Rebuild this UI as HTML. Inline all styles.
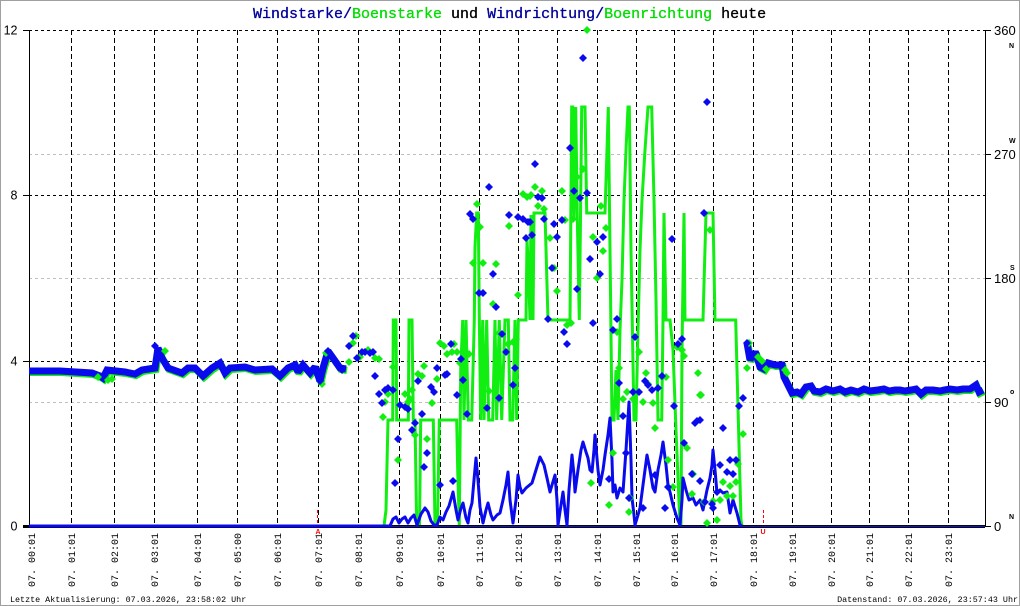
<!DOCTYPE html>
<html>
<head>
<meta charset="utf-8">
<style>
html,body{margin:0;padding:0;background:#fff;}
svg{display:block;}
.mono{font-family:"Liberation Mono",monospace;}
.sans{font-family:"Liberation Sans",sans-serif;}
</style>
</head>
<body>
<svg width="1020" height="606" viewBox="0 0 1020 606" xmlns="http://www.w3.org/2000/svg">
<rect x="0.5" y="0.5" width="1019" height="605" fill="#fff" stroke="#a0a0a0" stroke-width="1"/>

<!-- title -->
<text x="253" y="18" class="mono" font-size="15" font-weight="normal" stroke-width="0.3" xml:space="preserve"><tspan fill="#00009a" stroke="#00009a">Windstarke/</tspan><tspan fill="#00dd00" stroke="#00dd00">Boenstarke</tspan><tspan fill="#000" stroke="#000"> und </tspan><tspan fill="#00009a" stroke="#00009a">Windrichtung/</tspan><tspan fill="#00dd00" stroke="#00dd00">Boenrichtung</tspan><tspan fill="#000" stroke="#000"> heute</tspan></text>

<!-- gray direction grid -->
<g stroke="#c0c0c0" stroke-width="1" stroke-dasharray="3,3" shape-rendering="crispEdges">
<line x1="29" y1="154.5" x2="985" y2="154.5"/>
<line x1="29" y1="278.5" x2="985" y2="278.5"/>
<line x1="29" y1="402.5" x2="985" y2="402.5"/>
</g>
<!-- black dotted horizontal grid -->
<g stroke="#000" stroke-width="1" stroke-dasharray="3,3" shape-rendering="crispEdges">
<line x1="29" y1="30.5" x2="985" y2="30.5"/>
<line x1="29" y1="195.5" x2="985" y2="195.5"/>
<line x1="29" y1="361.5" x2="985" y2="361.5"/>
</g>
<!-- vertical dashed grid -->
<g stroke="#000" stroke-width="1" stroke-dasharray="5,3" shape-rendering="crispEdges">
<line x1="71.5" y1="30" x2="71.5" y2="526"/>
<line x1="114.5" y1="30" x2="114.5" y2="526"/>
<line x1="154.5" y1="30" x2="154.5" y2="526"/>
<line x1="197.5" y1="30" x2="197.5" y2="526"/>
<line x1="237.5" y1="30" x2="237.5" y2="526"/>
<line x1="277.5" y1="30" x2="277.5" y2="526"/>
<line x1="318.5" y1="30" x2="318.5" y2="526"/>
<line x1="358.5" y1="30" x2="358.5" y2="526"/>
<line x1="399.5" y1="30" x2="399.5" y2="526"/>
<line x1="440.5" y1="30" x2="440.5" y2="526"/>
<line x1="479.5" y1="30" x2="479.5" y2="526"/>
<line x1="518.5" y1="30" x2="518.5" y2="526"/>
<line x1="557.5" y1="30" x2="557.5" y2="526"/>
<line x1="597.5" y1="30" x2="597.5" y2="526"/>
<line x1="636.5" y1="30" x2="636.5" y2="526"/>
<line x1="674.5" y1="30" x2="674.5" y2="526"/>
<line x1="713.5" y1="30" x2="713.5" y2="526"/>
<line x1="753.5" y1="30" x2="753.5" y2="526"/>
<line x1="792.5" y1="30" x2="792.5" y2="526"/>
<line x1="831.5" y1="30" x2="831.5" y2="526"/>
<line x1="869.5" y1="30" x2="869.5" y2="526"/>
<line x1="908.5" y1="30" x2="908.5" y2="526"/>
<line x1="948.5" y1="30" x2="948.5" y2="526"/>
</g>

<!-- axes -->
<g stroke="#000" stroke-width="1" shape-rendering="crispEdges">
<line x1="29.5" y1="30" x2="29.5" y2="526"/>
<line x1="985.5" y1="30" x2="985.5" y2="526"/>
<line x1="23" y1="30.5" x2="29" y2="30.5"/>
<line x1="23" y1="195.5" x2="29" y2="195.5"/>
<line x1="23" y1="361.5" x2="29" y2="361.5"/>
<line x1="23" y1="526.5" x2="29" y2="526.5"/>
<line x1="985" y1="30.5" x2="991" y2="30.5"/>
<line x1="985" y1="154.5" x2="991" y2="154.5"/>
<line x1="985" y1="278.5" x2="991" y2="278.5"/>
<line x1="985" y1="402.5" x2="991" y2="402.5"/>
<line x1="985" y1="526.5" x2="991" y2="526.5"/>
</g>

<!-- left labels -->
<g class="sans" font-size="12.5" fill="#000" text-anchor="end">
<text x="17.5" y="34.5">12</text>
<text x="17.5" y="199.5">8</text>
<text x="17.5" y="365.5">4</text>
<text x="17.5" y="530.5">0</text>
</g>
<!-- right labels -->
<g class="sans" font-size="13" fill="#000">
<text x="994" y="35">360</text>
<text x="994" y="159">270</text>
<text x="994" y="283">180</text>
<text x="994" y="407">90</text>
<text x="994" y="531">0</text>
</g>
<g class="sans" font-size="7" font-weight="bold" fill="#000">
<text x="1009" y="48">N</text>
<text x="1009" y="143">W</text>
<text x="1010" y="270">S</text>
<text x="1010" y="394">o</text>
<text x="1009" y="519">N</text>
</g>

<!-- gust line (green) -->
<polyline fill="none" stroke="#11ee11" stroke-width="3" stroke-linejoin="miter" points="29,526 384,526 386,510 388,420 392.7,420 393.3,320 396,320 396.7,420 408.3,420 409,320 412,320 413.3,420 415,420 416.7,526 419.5,526 420.7,420 433.3,420 435,526 437.5,526 439.3,420 456.7,420 457.7,470 459.3,526 460.7,370 462.7,320 464,420 466,320 468.3,420 471.7,420 474.3,320 475,247 476.7,213 478.3,213 479.3,317 480.7,420 482.7,320 484,420 486.7,320 488.7,420 492.7,420 495,320 496.7,420 499.3,320 501.7,420 505,320 508.3,320 510,420 512.7,420 515,320 516.7,420 518.3,320 526,320 527,240 528.5,270 530,320 531,215 533,320 534,213 545,213 548,320 570,320 571.7,107 572.7,107 574,218 575.7,107 577.3,218 579.3,320 580.5,218 581.7,107 585,107 586.7,213 605,213 607,150 608.3,107 610,250 612,420 614,420 616,370 618,420 620,330 622,280 624,200 626,150 628,107 629.3,107 631,250 634,420 636,420 638,330 640,250 642,200 645,150 648,107 651.7,107 654,200 656,300 658,420 661.7,420 663,320 664,213 666,320 670,320 673,350 676,430 680,526 681,526 682,350 684,213 685,320 703,320 706,213 713,213 715,320 735.7,320 737,370 741,520 742,526"/>

<!-- bottom axis line -->
<line x1="23" y1="526.5" x2="985" y2="526.5" stroke="#000" stroke-width="3"/>
<line x1="29" y1="526.5" x2="985" y2="526.5" stroke="#1a1aa0" stroke-width="1.5"/>

<!-- wind speed line (blue) -->
<polyline fill="none" stroke="#0a0aee" stroke-width="3" stroke-linejoin="round" points="29,526 390,526 393,519 396,517 399,523 402,519 405,517 408,523 411,518 414,515 417,525 421,514 425,508 428,512 431,521 434,525 437,525 440,517 443,520 446,512 449,506 453,492 456,510 458,520 461,508 463,503 466,518 468,523 470,510 472,503 474,480 476,458 478,480 480,507 483,523 486,510 488,503 491,515 493,520 497,515 500,513 503,500 506,485 508,472 510,500 513,523 516,500 518,475 520,487 522,493 526,488 532,483 536,470 540,457 544,465 547,478 550,492 552,485 555,475 557,500 558,525 561,505 563,492 565,510 567,525 569,490 572,455 574,475 575,492 578,470 581,450 583,442 586,452 588,458 590,470 592,472 594,450 595,435 598,470 600,485 603,470 605,455 608,435 610,418 612,460 613,492 615,485 617,498 620,488 623,492 626,450 629,402 631,460 632,498 634,515 635,525 638,515 640,508 643,485 647,455 650,470 653,488 655,492 658,470 661,455 663,442 666,465 668,485 670,492 673,505 677,518 680,525 682,500 683,478 686,490 689,500 693,498 696,505 700,500 703,510 707,490 710,478 712,465 713,450 715,470 717,493 720,490 723,493 727,492 730,513 733,500 737,513 740,525 742,526"/>

<!-- direction bands (calm periods) -->
<g fill="none" stroke-width="7" stroke-linejoin="miter" stroke-miterlimit="2" stroke-linecap="butt">
<polyline stroke="#11ee11" transform="translate(1,1.5)" points="29,371 60,371 92,373 100,376 103,378 107,370 125,372 135,374 142,370 155,368 158,348 162,358 168,368 182,373 188,368 195,368 203,376 212,368 220,363 225,373 230,368 245,367 255,370 272,369 280,376 288,368 295,365 298,372 303,365 310,373 315,367 320,381 323,368 328,351 333,358 340,368 346,369"/>
<polyline stroke="#0a0aee" points="29,371 60,371 92,373 100,376 103,378 107,370 125,372 135,374 142,370 155,368 158,348 162,358 168,368 182,373 188,368 195,368 203,376 212,368 220,363 225,373 230,368 245,367 255,370 272,369 280,376 288,368 295,365 298,372 303,365 310,373 315,367 320,381 323,368 328,351 333,358 340,368 346,369"/>
<polyline stroke="#11ee11" transform="translate(1,1.5)" points="747,343 750,360 753,354 756,354 760,367 764,369 768,363 775,365 782,365 784,377 788,385 792,393 797,392 801,394 806,387 811,386 814,391 820,392 826,389 833,391 840,389 845,392 851,390 858,392 864,389 870,391 878,390 884,389 889,391 895,390 900,390 905,391 911,390 916,389 921,394 926,390 933,390 940,391 944,390 950,389 957,390 963,389 970,389 976,385 979,392 983,390"/>
<polyline stroke="#0a0aee" points="747,343 750,360 753,354 756,354 760,367 764,369 768,363 775,365 782,365 784,377 788,385 792,393 797,392 801,394 806,387 811,386 814,391 820,392 826,389 833,391 840,389 845,392 851,390 858,392 864,389 870,391 878,390 884,389 889,391 895,390 900,390 905,391 911,390 916,389 921,394 926,390 933,390 940,391 944,390 950,389 957,390 963,389 970,389 976,385 979,392 983,390"/>
</g>

<!-- green direction diamonds -->
<path fill="#11ee11" d="M352,336l4-4 4,4-4,4zM349,343l4-4 4,4-4,4zM345,362l4-4 4,4-4,4zM356,357l4-4 4,4-4,4zM364,350l4-4 4,4-4,4zM371,358l4-4 4,4-4,4zM375,359l4-4 4,4-4,4zM379,417l4-4 4,4-4,4zM381,402l4-4 4,4-4,4zM384,394l4-4 4,4-4,4zM389,367l4-4 4,4-4,4zM394,460l4-4 4,4-4,4zM401,394l4-4 4,4-4,4zM406,399l4-4 4,4-4,4zM404,402l4-4 4,4-4,4zM408,390l4-4 4,4-4,4zM411,435l4-4 4,4-4,4zM414,374l4-4 4,4-4,4zM418,376l4-4 4,4-4,4zM420,366l4-4 4,4-4,4zM423,439l4-4 4,4-4,4zM428,403l4-4 4,4-4,4zM433,379l4-4 4,4-4,4zM436,343l4-4 4,4-4,4zM440,346l4-4 4,4-4,4zM443,354l4-4 4,4-4,4zM448,352l4-4 4,4-4,4zM450,344l4-4 4,4-4,4zM453,352l4-4 4,4-4,4zM456,363l4-4 4,4-4,4zM460,353l4-4 4,4-4,4zM465,354l4-4 4,4-4,4zM469,263l4-4 4,4-4,4zM473,204l4-4 4,4-4,4zM476,227l4-4 4,4-4,4zM479,263l4-4 4,4-4,4zM489,304l4-4 4,4-4,4zM492,264l4-4 4,4-4,4zM485,391l4-4 4,4-4,4zM495,333l4-4 4,4-4,4zM504,344l4-4 4,4-4,4zM509,342l4-4 4,4-4,4zM512,339l4-4 4,4-4,4zM505,226l4-4 4,4-4,4zM514,295l4-4 4,4-4,4zM519,194l4-4 4,4-4,4zM523,197l4-4 4,4-4,4zM527,195l4-4 4,4-4,4zM531,187l4-4 4,4-4,4zM534,206l4-4 4,4-4,4zM526,196l4-4 4,4-4,4zM538,191l4-4 4,4-4,4zM540,209l4-4 4,4-4,4zM546,238l4-4 4,4-4,4zM550,268l4-4 4,4-4,4zM553,291l4-4 4,4-4,4zM558,191l4-4 4,4-4,4zM561,220l4-4 4,4-4,4zM563,325l4-4 4,4-4,4zM567,323l4-4 4,4-4,4zM569,219l4-4 4,4-4,4zM573,177l4-4 4,4-4,4zM579,169l4-4 4,4-4,4zM583,30l4-4 4,4-4,4zM589,237l4-4 4,4-4,4zM593,278l4-4 4,4-4,4zM597,206l4-4 4,4-4,4zM599,251l4-4 4,4-4,4zM602,228l4-4 4,4-4,4zM609,453l4-4 4,4-4,4zM613,332l4-4 4,4-4,4zM615,368l4-4 4,4-4,4zM619,399l4-4 4,4-4,4zM623,392l4-4 4,4-4,4zM626,498l4-4 4,4-4,4zM605,505l4-4 4,4-4,4zM587,483l4-4 4,4-4,4zM629,399l4-4 4,4-4,4zM635,352l4-4 4,4-4,4zM639,402l4-4 4,4-4,4zM642,373l4-4 4,4-4,4zM644,384l4-4 4,4-4,4zM649,403l4-4 4,4-4,4zM651,428l4-4 4,4-4,4zM625,512l4-4 4,4-4,4zM658,377l4-4 4,4-4,4zM662,377l4-4 4,4-4,4zM664,460l4-4 4,4-4,4zM669,487l4-4 4,4-4,4zM673,347l4-4 4,4-4,4zM678,350l4-4 4,4-4,4zM680,356l4-4 4,4-4,4zM683,448l4-4 4,4-4,4zM688,494l4-4 4,4-4,4zM689,474l4-4 4,4-4,4zM694,373l4-4 4,4-4,4zM697,395l4-4 4,4-4,4zM700,502l4-4 4,4-4,4zM703,523l4-4 4,4-4,4zM706,230l4-4 4,4-4,4zM709,501l4-4 4,4-4,4zM713,520l4-4 4,4-4,4zM716,500l4-4 4,4-4,4zM719,482l4-4 4,4-4,4zM723,496l4-4 4,4-4,4zM726,486l4-4 4,4-4,4zM732,482l4-4 4,4-4,4zM729,496l4-4 4,4-4,4zM734,464l4-4 4,4-4,4zM739,434l4-4 4,4-4,4zM696,395l4-4 4,4-4,4zM743,368l4-4 4,4-4,4zM745,343l4-4 4,4-4,4zM754,357l4-4 4,4-4,4zM758,361l4-4 4,4-4,4zM762,369l4-4 4,4-4,4zM781,370l4-4 4,4-4,4zM783,373l4-4 4,4-4,4zM104,380l4-4 4,4-4,4zM108,379l4-4 4,4-4,4zM161,351l4-4 4,4-4,4zM318,384l4-4 4,4-4,4zM322,353l4-4 4,4-4,4zM94,377l4-4 4,4-4,4z"/>

<!-- blue direction diamonds -->
<path fill="#0a0aee" d="M349,336l4-4 4,4-4,4zM345,346l4-4 4,4-4,4zM353,358l4-4 4,4-4,4zM358,352l4-4 4,4-4,4zM361,352l4-4 4,4-4,4zM366,353l4-4 4,4-4,4zM369,352l4-4 4,4-4,4zM338,370l4-4 4,4-4,4zM371,376l4-4 4,4-4,4zM375,394l4-4 4,4-4,4zM378,403l4-4 4,4-4,4zM381,390l4-4 4,4-4,4zM384,388l4-4 4,4-4,4zM389,390l4-4 4,4-4,4zM396,405l4-4 4,4-4,4zM401,407l4-4 4,4-4,4zM404,409l4-4 4,4-4,4zM408,430l4-4 4,4-4,4zM411,423l4-4 4,4-4,4zM414,381l4-4 4,4-4,4zM418,414l4-4 4,4-4,4zM394,439l4-4 4,4-4,4zM391,483l4-4 4,4-4,4zM423,453l4-4 4,4-4,4zM420,467l4-4 4,4-4,4zM427,387l4-4 4,4-4,4zM430,392l4-4 4,4-4,4zM433,368l4-4 4,4-4,4zM436,485l4-4 4,4-4,4zM441,375l4-4 4,4-4,4zM443,374l4-4 4,4-4,4zM447,344l4-4 4,4-4,4zM449,481l4-4 4,4-4,4zM453,395l4-4 4,4-4,4zM457,359l4-4 4,4-4,4zM459,380l4-4 4,4-4,4zM463,414l4-4 4,4-4,4zM466,214l4-4 4,4-4,4zM469,219l4-4 4,4-4,4zM475,293l4-4 4,4-4,4zM479,293l4-4 4,4-4,4zM483,408l4-4 4,4-4,4zM485,187l4-4 4,4-4,4zM489,274l4-4 4,4-4,4zM492,307l4-4 4,4-4,4zM495,398l4-4 4,4-4,4zM498,334l4-4 4,4-4,4zM502,352l4-4 4,4-4,4zM505,215l4-4 4,4-4,4zM509,385l4-4 4,4-4,4zM511,368l4-4 4,4-4,4zM514,217l4-4 4,4-4,4zM519,219l4-4 4,4-4,4zM522,238l4-4 4,4-4,4zM524,222l4-4 4,4-4,4zM528,235l4-4 4,4-4,4zM534,197l4-4 4,4-4,4zM531,164l4-4 4,4-4,4zM526,222l4-4 4,4-4,4zM538,198l4-4 4,4-4,4zM540,219l4-4 4,4-4,4zM544,319l4-4 4,4-4,4zM548,268l4-4 4,4-4,4zM550,224l4-4 4,4-4,4zM553,237l4-4 4,4-4,4zM558,220l4-4 4,4-4,4zM560,332l4-4 4,4-4,4zM563,344l4-4 4,4-4,4zM566,148l4-4 4,4-4,4zM570,191l4-4 4,4-4,4zM573,289l4-4 4,4-4,4zM576,198l4-4 4,4-4,4zM579,58l4-4 4,4-4,4zM583,193l4-4 4,4-4,4zM586,259l4-4 4,4-4,4zM589,323l4-4 4,4-4,4zM593,242l4-4 4,4-4,4zM596,274l4-4 4,4-4,4zM599,237l4-4 4,4-4,4zM609,330l4-4 4,4-4,4zM613,319l4-4 4,4-4,4zM615,383l4-4 4,4-4,4zM619,416l4-4 4,4-4,4zM622,453l4-4 4,4-4,4zM605,479l4-4 4,4-4,4zM625,498l4-4 4,4-4,4zM629,392l4-4 4,4-4,4zM635,392l4-4 4,4-4,4zM631,337l4-4 4,4-4,4zM639,508l4-4 4,4-4,4zM641,381l4-4 4,4-4,4zM644,385l4-4 4,4-4,4zM648,390l4-4 4,4-4,4zM651,475l4-4 4,4-4,4zM654,388l4-4 4,4-4,4zM658,376l4-4 4,4-4,4zM661,508l4-4 4,4-4,4zM664,487l4-4 4,4-4,4zM668,239l4-4 4,4-4,4zM670,406l4-4 4,4-4,4zM674,344l4-4 4,4-4,4zM678,339l4-4 4,4-4,4zM680,443l4-4 4,4-4,4zM688,474l4-4 4,4-4,4zM691,423l4-4 4,4-4,4zM693,421l4-4 4,4-4,4zM696,481l4-4 4,4-4,4zM700,213l4-4 4,4-4,4zM703,102l4-4 4,4-4,4zM708,504l4-4 4,4-4,4zM716,465l4-4 4,4-4,4zM719,428l4-4 4,4-4,4zM726,460l4-4 4,4-4,4zM701,502l4-4 4,4-4,4zM709,508l4-4 4,4-4,4zM713,492l4-4 4,4-4,4zM723,472l4-4 4,4-4,4zM732,460l4-4 4,4-4,4zM729,474l4-4 4,4-4,4zM735,406l4-4 4,4-4,4zM739,398l4-4 4,4-4,4zM696,420l4-4 4,4-4,4zM743,343l4-4 4,4-4,4zM151,346l4-4 4,4-4,4zM324,351l4-4 4,4-4,4zM316,381l4-4 4,4-4,4z"/>

<!-- sunrise / sunset markers -->
<g stroke="#ff0000" stroke-width="1" stroke-dasharray="3,2" shape-rendering="crispEdges">
<line x1="317.5" y1="510" x2="317.5" y2="525"/>
<line x1="763.5" y1="510" x2="763.5" y2="525"/>
</g>
<g class="sans" font-size="7" font-weight="bold" fill="#ff0000" text-anchor="middle">
<text x="318" y="534">A</text>
<text x="763" y="534">U</text>
</g>

<!-- x tick labels -->
<g class="mono" font-size="10" fill="#000">
<text transform="translate(35,587) rotate(-90)">07. 00:01</text>
<text transform="translate(75,587) rotate(-90)">07. 01:01</text>
<text transform="translate(118,587) rotate(-90)">07. 02:01</text>
<text transform="translate(158,587) rotate(-90)">07. 03:01</text>
<text transform="translate(201,587) rotate(-90)">07. 04:01</text>
<text transform="translate(241,587) rotate(-90)">07. 05:00</text>
<text transform="translate(281,587) rotate(-90)">07. 06:01</text>
<text transform="translate(322,587) rotate(-90)">07. 07:01</text>
<text transform="translate(362,587) rotate(-90)">07. 08:01</text>
<text transform="translate(403,587) rotate(-90)">07. 09:01</text>
<text transform="translate(444,587) rotate(-90)">07. 10:01</text>
<text transform="translate(483,587) rotate(-90)">07. 11:01</text>
<text transform="translate(522,587) rotate(-90)">07. 12:01</text>
<text transform="translate(561,587) rotate(-90)">07. 13:01</text>
<text transform="translate(601,587) rotate(-90)">07. 14:01</text>
<text transform="translate(640,587) rotate(-90)">07. 15:01</text>
<text transform="translate(678,587) rotate(-90)">07. 16:01</text>
<text transform="translate(717,587) rotate(-90)">07. 17:01</text>
<text transform="translate(757,587) rotate(-90)">07. 18:01</text>
<text transform="translate(796,587) rotate(-90)">07. 19:01</text>
<text transform="translate(835,587) rotate(-90)">07. 20:01</text>
<text transform="translate(873,587) rotate(-90)">07. 21:01</text>
<text transform="translate(912,587) rotate(-90)">07. 22:01</text>
<text transform="translate(952,587) rotate(-90)">07. 23:01</text>
</g>

<!-- footer -->
<text x="10" y="602" class="mono" font-size="8.4" fill="#000">Letzte Aktualisierung: 07.03.2026, 23:58:02 Uhr</text>
<text x="1018" y="602" class="mono" font-size="8.4" fill="#000" text-anchor="end">Datenstand: 07.03.2026, 23:57:43 Uhr</text>
</svg>
</body>
</html>
